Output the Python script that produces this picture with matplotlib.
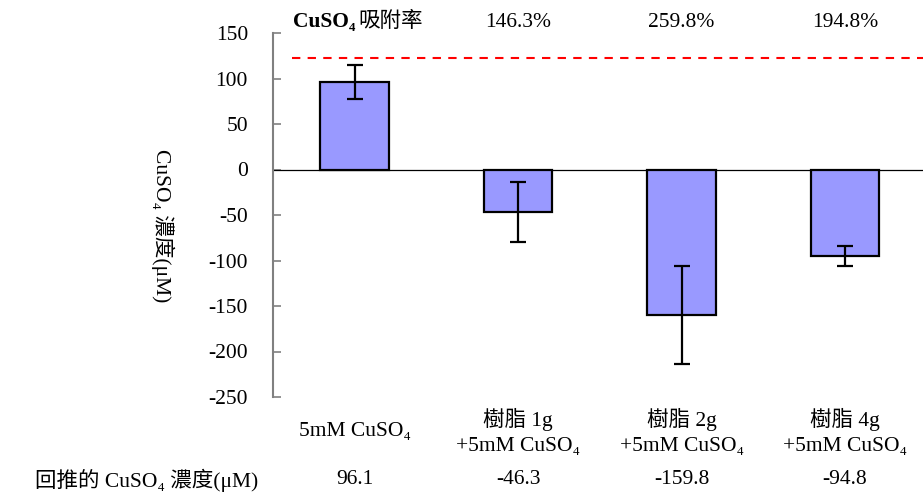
import matplotlib.pyplot as plt
import numpy as np

plt.rcParams['font.family'] = ['Liberation Serif', 'Noto Sans CJK TC', 'DejaVu Sans']
FS = 15.5

# bar groups and measured values
groups = ["5mM CuSO₄", "樹脂 1g\n+5mM CuSO₄", "樹脂 2g\n+5mM CuSO₄", "樹脂 4g\n+5mM CuSO₄"]
conc = [96.1, -46.3, -159.8, -94.8]
conc_err = [19, 33, 54, 11]
conc_text = ["96.1", "-46.3", "-159.8", "-94.8"]
uptake = ["", "146.3%", "259.8%", "194.8%"]
ref_level = 122
yticks = [150, 100, 50, 0, -50, -100, -150, -200, -250]

fig = plt.figure(figsize=(9.23, 4.92), dpi=100)
ax = fig.add_axes([273 / 923, 1 - 397 / 492, 650 / 923, 364 / 492])

x = np.arange(len(conc))
ax.bar(x, conc, width=0.42, color="#9999ff", edgecolor="black", linewidth=1.6, zorder=3)
ax.errorbar(x, conc, yerr=conc_err, fmt="none", ecolor="black",
            elinewidth=1.6, capsize=6, capthick=1.6, zorder=4)

ax.axhline(0, color="black", linewidth=0.9, zorder=2)
ax.axhline(ref_level, xmin=0.029, xmax=1.0, color="red", linestyle=(0, (4, 3.5)),
           linewidth=1.5, zorder=2)

ax.set_xlim(-0.5, 3.477)
ax.set_ylim(-250, 150)
ax.set_yticks(yticks)
ax.set_yticklabels([str(t) for t in yticks], fontsize=FS)
ax.set_xticks([])
for side in ["top", "right", "bottom"]:
    ax.spines[side].set_visible(False)
ax.spines["left"].set_color("#808080")
ax.spines["left"].set_linewidth(1.5)
ax.tick_params(axis="y", direction="in", length=6, width=1.2, color="#808080", pad=18)

ax.set_ylabel("CuSO₄ 濃度(μM)", rotation=270, fontsize=FS, va="center")
ax.yaxis.set_label_coords(-0.17, 0.47)

trans = ax.get_xaxis_transform()
for xi, g in zip(x, groups):
    ax.text(xi, -0.096, g, transform=trans, ha="center", va="center",
            fontsize=FS, linespacing=1.45)
for xi, c in zip(x, conc_text):
    ax.text(xi, -0.228, c, transform=trans, ha="center", va="center", fontsize=FS)
for xi, u in zip(x, uptake):
    if u:
        ax.text(xi, 1.03, u, transform=trans, ha="center", va="center", fontsize=FS)

fig.text(258 / 923, 1 - 480 / 492, "回推的 CuSO₄ 濃度(μM)", ha="right", va="center",
         fontsize=FS)
head = fig.text(293 / 923, 1 - 22 / 492, "CuSO₄", ha="left", va="center",
                fontsize=FS, fontweight="bold")
bb = head.get_window_extent(renderer=fig.canvas.get_renderer())
fig.text((bb.x1 + 3) / 923, 1 - 22 / 492, "吸附率", ha="left", va="center", fontsize=FS)

fig.savefig("out.png", dpi=100)
